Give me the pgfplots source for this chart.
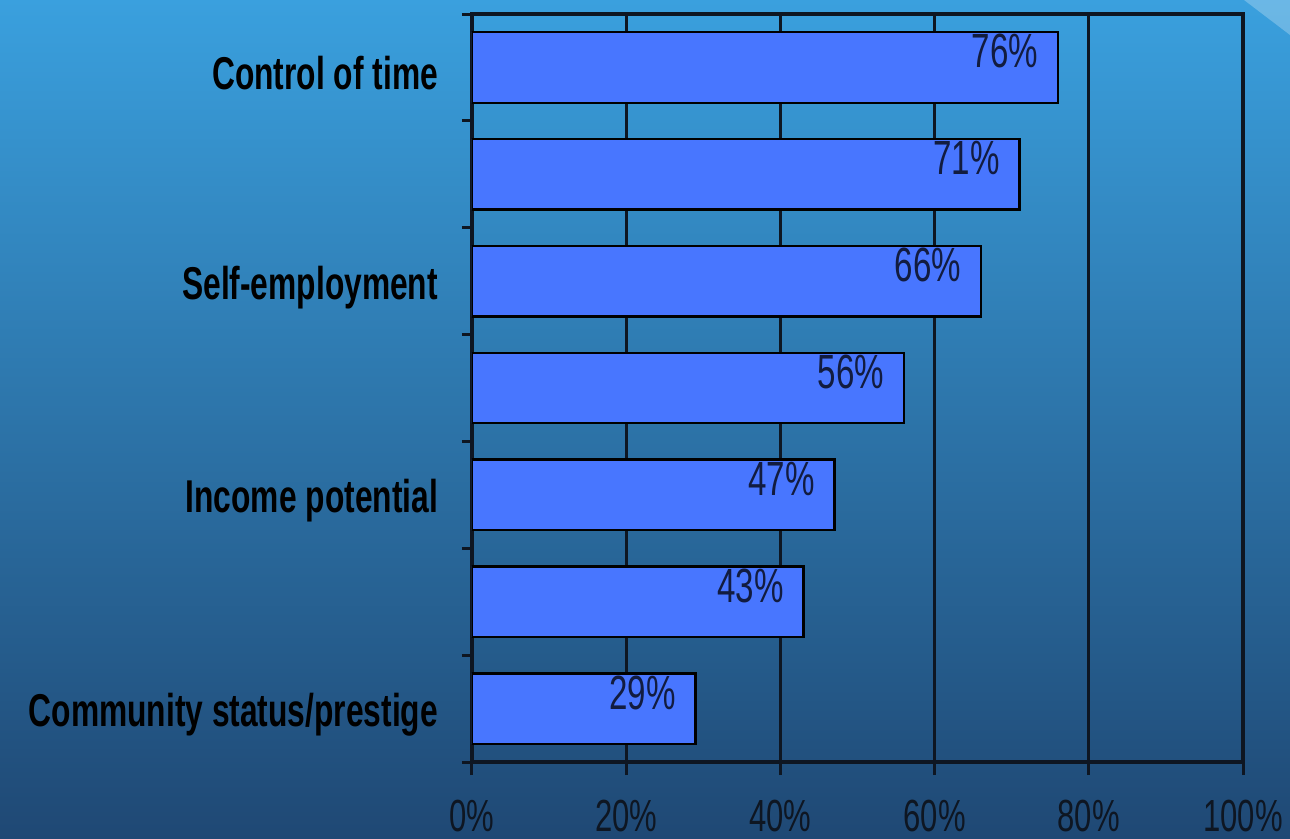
\documentclass[border=0pt]{standalone}
\usepackage{fontspec}
\setmainfont{Liberation Sans}[FakeStretch=0.69]
\usepackage{pgfplots}
\pgfplotsset{compat=1.18}
\definecolor{bgtop}{RGB}{58,160,222}
\definecolor{bgmid}{RGB}{42,112,168}
\definecolor{bgbot}{RGB}{31,72,116}
\definecolor{barblue}{RGB}{72,118,255}
\definecolor{gridc}{RGB}{14,22,34}
\definecolor{valc}{RGB}{18,28,64}
\begin{document}
\begin{tikzpicture}[x=1pt,y=1pt]
% slide background
\shade[top color=bgtop, middle color=bgmid, bottom color=bgbot] (0,0) rectangle (645,419.5);
\fill[white,opacity=0.25] (622,419.5) -- (645,419.5) -- (645,402) -- cycle;
\begin{axis}[
  at={(236pt,38.5pt)}, anchor=south west,
  scale only axis, width=385.5pt, height=374pt,
  xbar, bar width=0.66,
  xmin=0, xmax=100, ymin=0.5, ymax=7.5, y dir=reverse,
  xtick={0,20,...,100},
  xticklabel={\pgfmathprintnumber{\tick}\%},
  ytick={1,3,5,7},
  yticklabels={Control of time, Self-employment, Income potential, Community status/prestige},
  minor ytick={0.5,1.5,...,7.5},
  xtick pos=lower, ytick pos=left,
  tick align=outside, major tick length=6.5pt, minor tick length=5pt,
  major y tick style={draw=none},
  tick style={gridc, line width=1.5pt},
  xmajorgrids, grid style={gridc, line width=1.4pt},
  axis line style={gridc, line width=2pt},
  /pgf/number format/assume math mode=true,
  ticklabel style={font=\fontsize{22.5}{24}\selectfont, text=gridc},
  xticklabel style={yshift=-9pt},
  yticklabel style={font=\bfseries\fontsize{23}{25}\selectfont, text=black,
    xshift=-7pt, yshift=-3pt},
  point meta=x,
  nodes near coords={\pgfmathprintnumber{\pgfplotspointmeta}\%},
  every node near coord/.append style={anchor=east, xshift=-6pt, yshift=8pt,
    font=\fontsize{24}{26}\selectfont, text=valc},
]
\addplot[fill=barblue, draw=black, line width=1.2pt]
  coordinates {(76,1) (71,2) (66,3) (56,4) (47,5) (43,6) (29,7)};
\end{axis}
\end{tikzpicture}
\end{document}
